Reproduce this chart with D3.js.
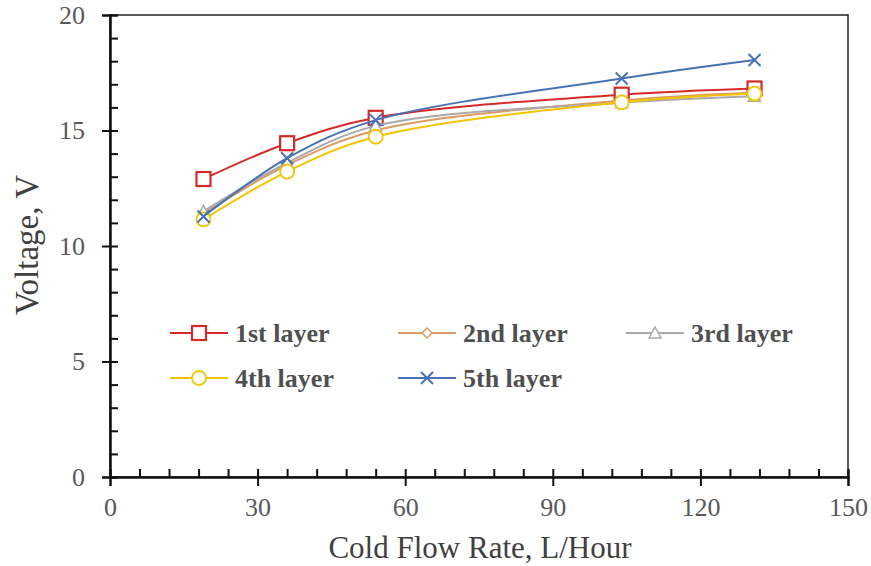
<!DOCTYPE html>
<html>
<head>
<meta charset="utf-8">
<script src="https://cdn.jsdelivr.net/npm/d3@7"></script>
<style>
  body { margin: 0; background: #fff; }
  svg { display: block; }
</style>
</head>
<body>
<div id="chart"></div>
<script>
// data
let flowRates = [19, 36, 54, 104, 131];
let layerNames = ["1st layer", "2nd layer", "3rd layer", "4th layer", "5th layer"];
let layer1 = [12.9, 14.45, 15.55, 16.55, 16.82];
let layer2 = [11.4, 13.5, 15.0, 16.3, 16.65];
let layer3 = [11.5, 13.6, 15.2, 16.2, 16.48];
let layer4 = [11.15, 13.22, 14.73, 16.22, 16.6];
let layer5 = [11.28, 13.8, 15.45, 17.25, 18.05];
let xTicks = [0, 30, 60, 90, 120, 150];
let yTicks = [0, 5, 10, 15, 20];

let colors = ["#d42a2a", "#dd9a62", "#a9a9a9", "#f2c400", "#4773b4"];
let markers = ["square", "diamond", "triangle", "circle", "cross"];
let series = [layer1, layer2, layer3, layer4, layer5].map(function (vals, i) {
  return { name: layerNames[i], color: colors[i], marker: markers[i],
    points: vals.map(function (v, j) { return { x: flowRates[j], y: v }; }) };
});

let width = 871, height = 566;
let margin = { top: 15, right: 23, bottom: 89, left: 110 };

let svg = d3.select("#chart").append("svg")
  .attr("width", width).attr("height", height)
  .style("background", "#fff");

let x = d3.scaleLinear().domain([0, 150]).range([margin.left, width - margin.right]);
let y = d3.scaleLinear().domain([0, 20]).range([height - margin.bottom, margin.top]);
let x0 = x(0), y0 = y(0);

let serif = "'Liberation Serif', 'Times New Roman', serif";

// frame
svg.append("rect")
  .attr("x", x(0)).attr("y", y(20))
  .attr("width", x(150) - x(0)).attr("height", y(0) - y(20))
  .attr("fill", "none").attr("stroke", "#222").attr("stroke-width", 1.5);

// x axis: outer major ticks with labels + inner minor ticks
svg.append("g").attr("transform", "translate(0," + y0 + ")")
  .call(d3.axisBottom(x).tickValues(xTicks).tickSize(9).tickPadding(12).tickFormat(d3.format("d")));
svg.append("g").attr("transform", "translate(0," + y0 + ")")
  .call(d3.axisTop(x).tickValues(d3.range(0, 151, 6)).tickSize(8).tickFormat(""));

// y axis
svg.append("g").attr("transform", "translate(" + x0 + ",0)")
  .call(d3.axisLeft(y).tickValues(yTicks).tickSize(8).tickPadding(17));
svg.append("g").attr("transform", "translate(" + x0 + ",0)")
  .call(d3.axisRight(y).tickValues(d3.range(0, 21, 1)).tickSize(8).tickFormat(""));

svg.selectAll(".domain").attr("stroke", "#111").attr("stroke-width", 2);
svg.selectAll(".tick line").attr("stroke", "#111").attr("stroke-width", 2);
svg.selectAll(".tick text")
  .attr("font-family", serif).attr("font-size", "26px").attr("fill", "#595959");

// axis titles
svg.append("text")
  .attr("x", 480).attr("y", 558)
  .attr("text-anchor", "middle")
  .attr("font-family", serif).attr("font-size", "31px").attr("fill", "#404040")
  .text("Cold Flow Rate, L/Hour");

svg.append("text")
  .attr("transform", "translate(38,245) rotate(-90)")
  .attr("text-anchor", "middle")
  .attr("font-family", serif).attr("font-size", "33px").attr("fill", "#404040")
  .text("Voltage, V");

function drawMarker(g, type, color) {
  if (type == "square") {
    g.append("rect").attr("x", -7).attr("y", -7).attr("width", 14).attr("height", 14)
      .attr("fill", "#fff").attr("stroke", color).attr("stroke-width", 2.2);
  } else if (type == "diamond") {
    g.append("path").attr("d", "M0,-5L5,0L0,5L-5,0Z")
      .attr("fill", "#fff").attr("stroke", color).attr("stroke-width", 1.5);
  } else if (type == "triangle") {
    g.append("path").attr("d", "M0,-6L6,5L-6,5Z")
      .attr("fill", "#fff").attr("stroke", color).attr("stroke-width", 1.5);
  } else if (type == "circle") {
    g.append("circle").attr("r", 7)
      .attr("fill", "#fff").attr("stroke", color).attr("stroke-width", 1.8);
  } else {
    g.append("path").attr("d", "M-6,-6L6,6M-6,6L6,-6")
      .attr("fill", "none").attr("stroke", color).attr("stroke-width", 2);
  }
}

// smoothed lines like the spreadsheet
let line = d3.line()
  .x(function (d) { return x(d.x); })
  .y(function (d) { return y(d.y); })
  .curve(d3.curveCatmullRom.alpha(0.5));

series.forEach(function (s) {
  svg.append("path")
    .attr("d", line(s.points))
    .attr("fill", "none").attr("stroke", s.color).attr("stroke-width", 2);
  s.points.forEach(function (p) {
    let g = svg.append("g").attr("transform", "translate(" + x(p.x) + "," + y(p.y) + ")");
    drawMarker(g, s.marker, s.color);
  });
});

// legend
let legendX = [170, 398, 626], legendY = [333, 378];
series.forEach(function (s, i) {
  let lx = legendX[i % 3], ly = legendY[Math.floor(i / 3)];
  let g = svg.append("g").attr("transform", "translate(" + lx + "," + ly + ")");
  g.append("line").attr("x1", 0).attr("x2", 58).attr("y1", 0).attr("y2", 0)
    .attr("stroke", s.color).attr("stroke-width", 2);
  let m = g.append("g").attr("transform", "translate(29,0)");
  drawMarker(m, s.marker, s.color);
  g.append("text")
    .attr("x", 65).attr("y", 0).attr("dy", "0.35em")
    .attr("font-family", serif).attr("font-size", "26px").attr("font-weight", "bold")
    .attr("fill", "#505050")
    .text(s.name);
});
</script>
</body>
</html>
